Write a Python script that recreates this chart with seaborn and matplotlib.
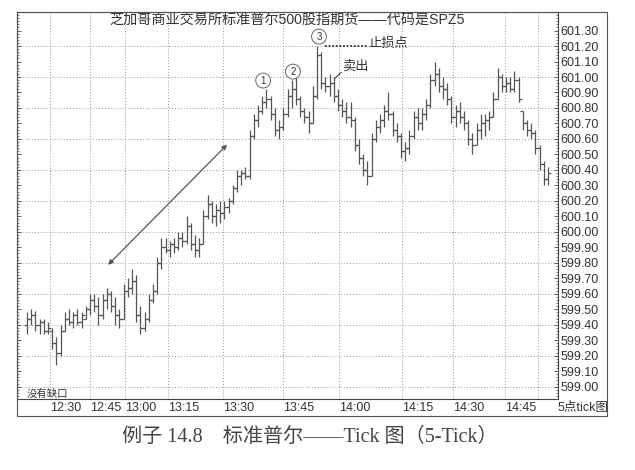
import numpy as np
import matplotlib.pyplot as plt
import matplotlib.patches as mpatches
from matplotlib.ticker import MultipleLocator
import seaborn as sns

sns.set_style("white")
plt.rcParams['font.family'] = ['Liberation Sans', 'Noto Sans CJK SC', 'DejaVu Sans']

# 5-tick bars (open, high, low, close)
opens = [599.40, 599.44, 599.46, 599.40, 599.42, 599.36, 599.36, 599.28, 599.22, 599.36,
         599.44, 599.42, 599.46, 599.42, 599.44, 599.50, 599.56, 599.52, 599.46, 599.56,
         599.60, 599.52, 599.46, 599.44, 599.62, 599.64, 599.68, 599.46, 599.38, 599.44,
         599.56, 599.62, 599.80, 599.90, 599.88, 599.92, 599.90, 599.96, 599.94, 600.04,
         599.92, 599.88, 599.92, 600.10, 600.18, 600.10, 600.14, 600.12, 600.16, 600.20,
         600.28, 600.36, 600.38, 600.36, 600.62, 600.72, 600.78, 600.84, 600.86, 600.76,
         600.66, 600.68, 600.76, 600.88, 600.92, 600.86, 600.78, 600.74, 600.70, 600.88,
         601.14, 600.96, 600.94, 600.96, 600.88, 600.82, 600.78, 600.74, 600.72, 600.56,
         600.48, 600.40, 600.36, 600.60, 600.68, 600.72, 600.78, 600.76, 600.66, 600.62,
         600.52, 600.54, 600.62, 600.74, 600.70, 600.76, 600.82, 600.98, 601.02, 600.94,
         600.92, 600.86, 600.74, 600.78, 600.74, 600.70, 600.60, 600.56, 600.66, 600.70,
         600.72, 600.74, 600.86, 601.00, 600.94, 600.96, 600.92, 600.98, 600.78, 600.70,
         600.66, 600.64, 600.54, 600.44, 600.34]
highs = [599.48, 599.50, 599.49, 599.44, 599.44, 599.42, 599.38, 599.32, 599.40, 599.48,
         599.50, 599.48, 599.50, 599.48, 599.52, 599.60, 599.60, 599.58, 599.60, 599.64,
         599.62, 599.58, 599.50, 599.66, 599.70, 599.76, 599.72, 599.52, 599.48, 599.60,
         599.66, 599.84, 599.96, 599.96, 599.94, 599.96, 600.00, 600.00, 600.10, 600.06,
         599.98, 599.96, 600.14, 600.24, 600.20, 600.18, 600.20, 600.20, 600.22, 600.30,
         600.40, 600.40, 600.42, 600.66, 600.76, 600.82, 600.88, 600.92, 600.88, 600.80,
         600.72, 600.80, 600.92, 600.98, 601.00, 600.88, 600.80, 600.78, 600.94, 601.20,
         601.16, 601.00, 601.02, 601.00, 600.92, 600.86, 600.84, 600.84, 600.74, 600.60,
         600.50, 600.46, 600.64, 600.72, 600.76, 600.82, 600.90, 600.78, 600.70, 600.64,
         600.58, 600.66, 600.78, 600.80, 600.80, 600.86, 601.02, 601.10, 601.06, 601.00,
         600.96, 600.88, 600.82, 600.84, 600.78, 600.72, 600.64, 600.70, 600.76, 600.76,
         600.78, 600.90, 601.06, 601.02, 601.00, 601.00, 601.04, 601.00, 600.78, 600.72,
         600.70, 600.66, 600.56, 600.46, 600.42]
lows = [599.34, 599.40, 599.36, 599.34, 599.34, 599.34, 599.24, 599.14, 599.20, 599.36,
        599.40, 599.38, 599.40, 599.38, 599.44, 599.46, 599.48, 599.40, 599.44, 599.50,
        599.48, 599.40, 599.38, 599.44, 599.58, 599.60, 599.42, 599.34, 599.36, 599.42,
        599.54, 599.60, 599.76, 599.86, 599.84, 599.86, 599.88, 599.90, 599.92, 599.88,
        599.84, 599.84, 599.92, 600.08, 600.06, 600.04, 600.06, 600.08, 600.12, 600.18,
        600.26, 600.30, 600.34, 600.34, 600.60, 600.68, 600.76, 600.80, 600.72, 600.62,
        600.60, 600.66, 600.74, 600.80, 600.82, 600.74, 600.70, 600.64, 600.70, 600.86,
        600.92, 600.90, 600.88, 600.84, 600.78, 600.74, 600.70, 600.68, 600.52, 600.44,
        600.36, 600.30, 600.36, 600.58, 600.64, 600.68, 600.72, 600.62, 600.58, 600.48,
        600.46, 600.50, 600.60, 600.66, 600.66, 600.72, 600.80, 600.94, 600.90, 600.86,
        600.82, 600.70, 600.68, 600.70, 600.66, 600.56, 600.50, 600.56, 600.60, 600.62,
        600.66, 600.74, 600.86, 600.90, 600.90, 600.90, 600.90, 600.84, 600.66, 600.62,
        600.60, 600.50, 600.40, 600.30, 600.30]
closes = [599.44, 599.46, 599.40, 599.42, 599.36, 599.38, 599.28, 599.22, 599.36, 599.44,
          599.42, 599.46, 599.42, 599.46, 599.50, 599.56, 599.52, 599.46, 599.56, 599.60,
          599.52, 599.46, 599.44, 599.62, 599.64, 599.68, 599.46, 599.38, 599.44, 599.56,
          599.62, 599.80, 599.90, 599.88, 599.92, 599.90, 599.96, 599.94, 600.04, 599.92,
          599.88, 599.92, 600.10, 600.18, 600.10, 600.14, 600.12, 600.16, 600.20, 600.28,
          600.36, 600.38, 600.36, 600.62, 600.72, 600.78, 600.84, 600.86, 600.76, 600.66,
          600.68, 600.76, 600.88, 600.92, 600.86, 600.78, 600.74, 600.70, 600.88, 601.14,
          600.96, 600.94, 600.96, 600.88, 600.82, 600.78, 600.74, 600.72, 600.56, 600.48,
          600.40, 600.36, 600.60, 600.68, 600.72, 600.78, 600.76, 600.66, 600.62, 600.52,
          600.54, 600.62, 600.74, 600.70, 600.76, 600.82, 600.98, 601.02, 600.94, 600.92,
          600.86, 600.74, 600.78, 600.74, 600.70, 600.60, 600.56, 600.66, 600.70, 600.72,
          600.74, 600.86, 601.00, 600.94, 600.96, 600.92, 600.98, 600.86, 600.70, 600.66,
          600.64, 600.54, 600.44, 600.34, 600.38]

# bar index where each time label sits
time_pos = [5.5, 15.0, 23.3, 33.6, 46.7, 61.0, 74.3, 89.3, 101.4, 113.8, 121.7]
time_labels = ["12:30", "12:45", "13:00", "13:15", "13:30", "13:45",
               "14:00", "14:15", "14:30", "14:45", ""]

title = "芝加哥商业交易所标准普尔500股指期货——代码是SPZ5"
caption = "例子 14.8　标准普尔——Tick 图（5-Tick）"

bar_col = "#555555"
txt_col = "#333333"

fig = plt.figure(figsize=(6.35, 4.7), dpi=100)
ax = fig.add_axes([17/635, 1 - 399/470, (558 - 17)/635, (399 - 12)/470])

idx = np.arange(len(opens))
ax.vlines(idx, lows, highs, color=bar_col, lw=0.9)
ax.plot(idx, opens, linestyle="none", marker=0, ms=2.2, mew=0.9, color=bar_col)
ax.plot(idx, closes, linestyle="none", marker=1, ms=2.2, mew=0.9, color=bar_col)

ax.set_xlim(-2.4, 126.4)
ax.set_ylim(598.92, 601.42)

# grid
for gx in time_pos:
    ax.axvline(gx, color="#9a9a9a", lw=0.7, ls=(0, (1, 2)), zorder=0)
for gy in np.arange(599.0, 601.3, 0.2):
    ax.axhline(gy, color="#9a9a9a", lw=0.7, ls=(0, (1, 2)), zorder=0)

# axes / ticks
ax.yaxis.tick_right()
ax.yaxis.set_minor_locator(MultipleLocator(0.02))
ax.set_yticks(np.round(np.arange(599.0, 601.31, 0.1), 2))
ax.set_yticklabels([f"{v:.2f}" for v in np.arange(599.0, 601.31, 0.1)])
ax.tick_params(axis="y", which="both", left=True, right=True, labelleft=False,
               labelright=True, direction="in", colors="#444444",
               labelcolor=txt_col, labelsize=9, pad=2)
ax.tick_params(axis="y", which="major", length=3, width=0.6)
ax.tick_params(axis="y", which="minor", length=1.5, width=0.5)
ax.set_xticks(time_pos)
ax.set_xticklabels(time_labels, ha="left")
ax.tick_params(axis="x", length=0, labelsize=9, labelcolor=txt_col, pad=2)
for s in ax.spines.values():
    s.set_color("#444444")
    s.set_linewidth(0.8)

# outer frame
fig.patches.append(mpatches.Rectangle((17/635, 1 - 416/470), (607 - 17)/635, (416 - 12)/470,
                                      transform=fig.transFigure, fill=False,
                                      ec="#555555", lw=0.8))

# annotations
ax.text(61.9, 601.37, title, ha="center", va="center", fontsize=10.2, color=txt_col)
ax.text(-0.2, 598.95, "没有缺口", ha="left", va="center", fontsize=7.5, color=txt_col)
fig.text(583/635, 1 - 408/470, "5点tick图", ha="center", va="center", fontsize=9, color=txt_col)

ax.annotate("", xy=(47.6, 600.563), xytext=(19.3, 599.787),
            arrowprops=dict(arrowstyle="<|-|>", color="#555555", lw=0.9,
                            mutation_scale=7, shrinkA=0, shrinkB=0))

for lab, cx, cy in [("1", 56.2, 600.977), ("2", 63.3, 601.035), ("3", 69.5, 601.261)]:
    ax.text(cx, cy, lab, ha="center", va="center", fontsize=7, color=txt_col,
            bbox=dict(boxstyle="circle,pad=0.25", fc="white", ec="#666666", lw=0.7))

ax.plot([71.0, 81.0], [601.20, 601.20], ls=(0, (1, 1)), color="#333333", lw=1.3)
ax.text(81.3, 601.215, "止损点", ha="left", va="center", fontsize=9.5, color=txt_col)
ax.text(75.0, 601.07, "卖出", ha="left", va="center", fontsize=9.5, color=txt_col)
ax.plot([74.8, 73.2], [601.03, 600.99], color="#444444", lw=0.8)

fig.text(310/635, 1 - 437/470, caption, ha="center", va="center", fontsize=14.5,
         color="#444444", family=["Liberation Serif", "Noto Sans CJK SC"])

fig.savefig("out.png", dpi=100)
